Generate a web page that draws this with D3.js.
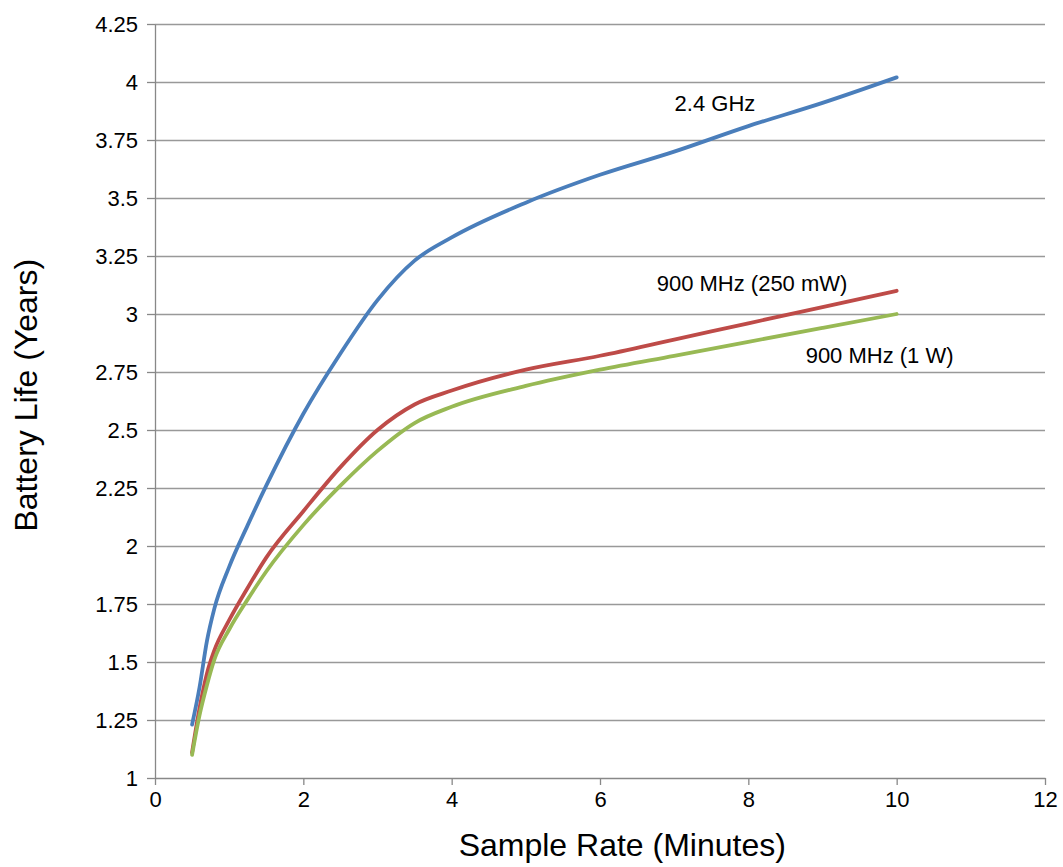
<!DOCTYPE html>
<html>
<head>
<meta charset="utf-8">
<script src="https://cdn.jsdelivr.net/npm/d3@7/dist/d3.min.js"></script>
<style>
	body { margin: 0; background: #fff; }
	svg text { font-family: "Liberation Sans", Arial, sans-serif; fill: #000; }
	.grid line { stroke: #999; stroke-width: 1.3px; }
	.grid path { display: none; }
	.axis path, .axis line { stroke: #888; stroke-width: 1.3px; }
	.axis text { font-size: 22px; }
	.line { fill: none; stroke-width: 3.8px; stroke-linecap: round; }
	.series-label { font-size: 22px; }
	.axis-title { font-size: 32px; }
</style>
</head>
<body>
<div id="chart"></div>
<script>
// sample rate in minutes
let sampleRates = [0.5, 0.6, 0.7, 0.8, 1, 1.25, 1.5, 2, 2.5, 3, 3.5, 4, 5, 6, 7, 8, 9, 10];
// battery life in years
let ghz24 = [1.23, 1.39, 1.59, 1.73, 1.91, 2.09, 2.26, 2.57, 2.83, 3.06, 3.23, 3.33, 3.48, 3.60, 3.70, 3.81, 3.91, 4.02];
let mhz900_250mW = [1.11, 1.30, 1.45, 1.55, 1.68, 1.82, 1.95, 2.15, 2.34, 2.50, 2.61, 2.67, 2.76, 2.82, 2.89, 2.96, 3.03, 3.10];
let mhz900_1W = [1.10, 1.27, 1.40, 1.51, 1.64, 1.77, 1.89, 2.09, 2.26, 2.41, 2.53, 2.60, 2.69, 2.76, 2.82, 2.88, 2.94, 3.00];
let seriesNames = ["2.4 GHz", "900 MHz (250 mW)", "900 MHz (1 W)"];
let xTicks = [0, 2, 4, 6, 8, 10, 12];
let yTicks = [1, 1.25, 1.5, 1.75, 2, 2.25, 2.5, 2.75, 3, 3.25, 3.5, 3.75, 4, 4.25];

let width = 1063;
let height = 867;
let margin = { top: 24, right: 18, bottom: 89, left: 155 };
let innerW = width - margin.left - margin.right;
let innerH = height - margin.top - margin.bottom;

let colors = ["#4a7ebb", "#be4b48", "#98b954"];
// label anchor in data units (baseline, centred)
let labelPos = [[7.55, 3.875], [8.05, 3.10], [9.77, 2.79]];

let data = [ghz24, mhz900_250mW, mhz900_1W].map(function(vals, i) {
	return {
		name: seriesNames[i],
		values: vals.map((v, j) => ({ x: sampleRates[j], y: v }))
	};
});

let svg = d3.select("#chart").append("svg")
	.attr("width", width)
	.attr("height", height);

let g = svg.append("g")
	.attr("transform", `translate(${margin.left},${margin.top})`);

let xScale = d3.scaleLinear().domain([0, 12]).range([0, innerW]);
let yScale = d3.scaleLinear().domain([1, 4.25]).range([innerH, 0]);

/* gridlines */
g.append("g")
	.attr("class", "grid")
	.call(d3.axisLeft(yScale)
		.tickValues(yTicks.slice(1))
		.tickSize(-innerW)
		.tickFormat("")
	);

/* axes */
g.append("g")
	.attr("class", "x axis")
	.attr("transform", `translate(0,${innerH})`)
	.call(d3.axisBottom(xScale).tickValues(xTicks).tickSize(7).tickSizeOuter(0).tickPadding(6).tickFormat(d3.format("d")));

g.append("g")
	.attr("class", "y axis")
	.call(d3.axisLeft(yScale).tickValues(yTicks).tickSize(8).tickSizeOuter(0).tickPadding(9).tickFormat(d => String(d)));

/* lines */
let line = d3.line()
	.curve(d3.curveMonotoneX)
	.x(d => xScale(d.x))
	.y(d => yScale(d.y));

g.selectAll(".line")
	.data(data).enter()
	.append("path")
	.attr("class", "line")
	.attr("d", d => line(d.values))
	.style("stroke", (d, i) => colors[i]);

/* series labels */
g.selectAll(".series-label")
	.data(data).enter()
	.append("text")
	.attr("class", "series-label")
	.attr("text-anchor", "middle")
	.attr("x", (d, i) => xScale(labelPos[i][0]))
	.attr("y", (d, i) => yScale(labelPos[i][1]))
	.text(d => d.name);

/* axis titles */
svg.append("text")
	.attr("class", "axis-title")
	.attr("text-anchor", "middle")
	.attr("x", margin.left + xScale(6.3))
	.attr("y", 856)
	.text("Sample Rate (Minutes)");

svg.append("text")
	.attr("class", "axis-title")
	.attr("text-anchor", "middle")
	.attr("transform", "translate(37," + (margin.top + yScale(2.65)) + ") rotate(-90)")
	.text("Battery Life (Years)");
</script>
</body>
</html>
